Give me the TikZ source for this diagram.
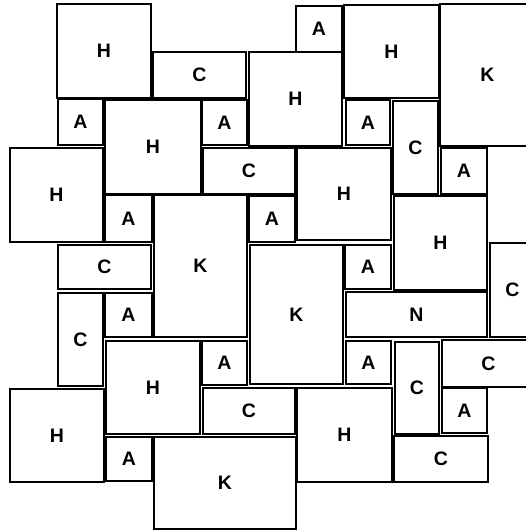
\documentclass[tikz,border=0pt]{standalone}
\usepackage{fontspec}
\setmainfont{Liberation Sans}
\begin{document}
\begin{tikzpicture}[x=1pt,y=-1pt,
  tile/.style={draw=black, fill=white, line width=2pt, inner sep=0pt,
    font=\fontsize{19.5}{19.5}\selectfont\bfseries}]
\fill[white] (0,0) rectangle (526,531);
\useasboundingbox (0,0) rectangle (526,531);
\newcommand\tile[6]{%
  \node[tile, minimum width=#4pt-#2pt, minimum height=#5pt-#3pt]
    (#1) at ({(#2+#4)/2},{(#3+#5)/2}) {#6};}
\tile{h1}{57}{4}{151}{98}{H}
\tile{c1}{153}{52}{246}{98}{C}
\tile{h2}{249}{52}{342}{146}{H}
\tile{a1}{296}{6}{342}{52}{A}
\tile{h3}{344}{5}{439}{98}{H}
\tile{k1}{440}{4}{535}{146}{K}
\tile{a2}{58}{99}{103}{145}{A}
\tile{h4}{105}{100}{201}{194}{H}
\tile{a3}{202}{100}{247}{145}{A}
\tile{a4}{346}{100}{390}{145}{A}
\tile{c2}{393}{101}{438}{194}{C}
\tile{h5}{10}{148}{103}{242}{H}
\tile{c3}{203}{148}{295}{194}{C}
\tile{h6}{297}{148}{391}{240}{H}
\tile{a5}{441}{148}{487}{194}{A}
\tile{a6}{105}{195}{152}{242}{A}
\tile{k2}{154}{195}{247}{337}{K}
\tile{a7}{249}{196}{295}{242}{A}
\tile{h7}{394}{196}{487}{290}{H}
\tile{c4}{58}{245}{151}{289}{C}
\tile{k3}{250}{245}{343}{384}{K}
\tile{a8}{345}{245}{391}{289}{A}
\tile{c5}{490}{243}{535}{337}{C}
\tile{n1}{346}{292}{487}{337}{N}
\tile{c6}{58}{293}{103}{386}{C}
\tile{a9}{105}{293}{152}{337}{A}
\tile{h8}{106}{341}{200}{434}{H}
\tile{a10}{202}{341}{247}{385}{A}
\tile{a11}{346}{341}{391}{384}{A}
\tile{c7}{395}{342}{439}{434}{C}
\tile{c8}{442}{340}{535}{387}{C}
\tile{a12}{442}{388}{487}{433}{A}
\tile{h9}{10}{389}{104}{482}{H}
\tile{c9}{203}{388}{295}{434}{C}
\tile{h10}{297}{388}{392}{482}{H}
\tile{c10}{394}{436}{488}{482}{C}
\tile{a13}{106}{437}{152}{481}{A}
\tile{k4}{154}{437}{296}{529}{K}
\end{tikzpicture}
\end{document}
